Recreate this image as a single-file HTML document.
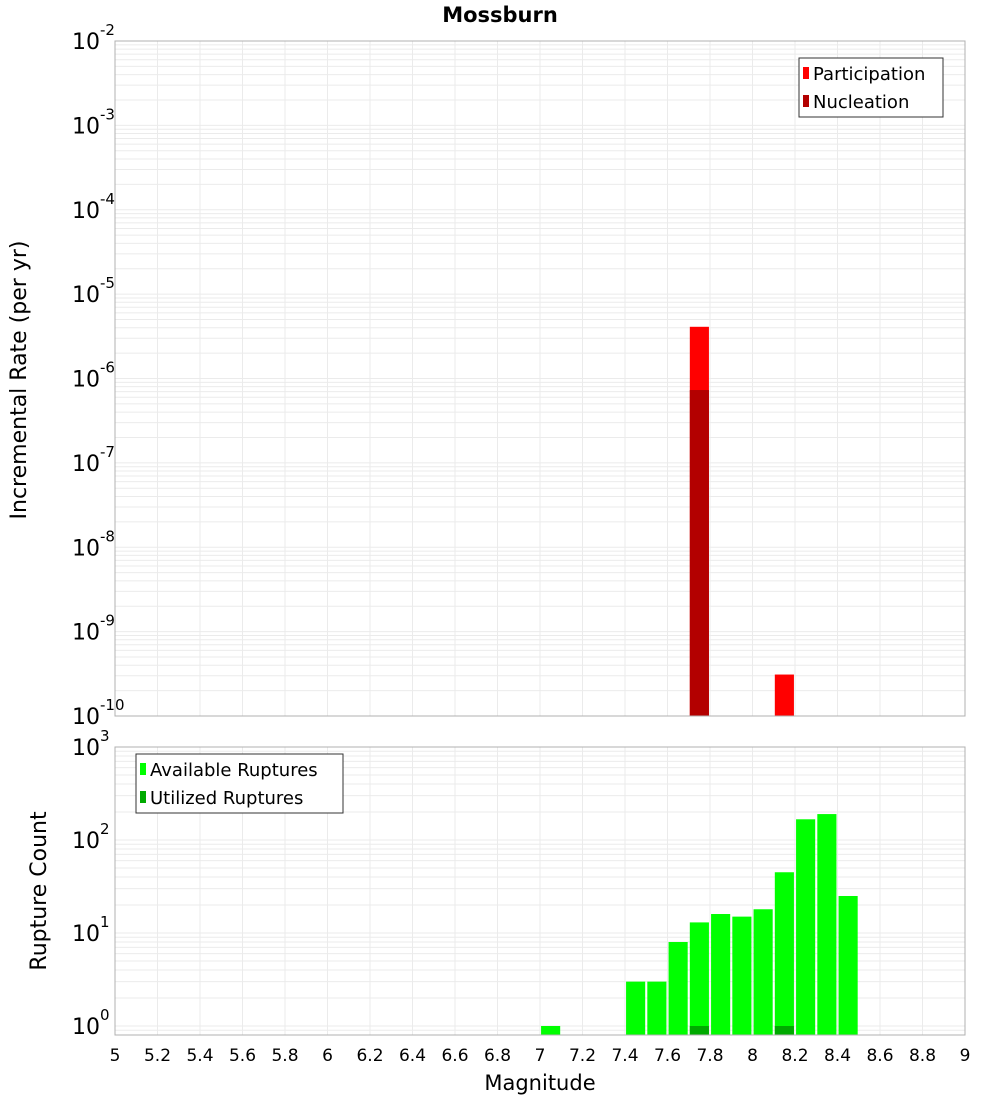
<!DOCTYPE html>
<html><head><meta charset="utf-8"><style>
body{margin:0;background:#fff;}
svg text{font-family:"DejaVu Sans","Liberation Sans",sans-serif;}
</style></head><body>
<svg id="c" width="1000" height="1100" xmlns="http://www.w3.org/2000/svg"></svg>
<script>
const partMags=[7.75,8.15];
const partRates=[4.1e-6,3.1e-10];
const nuclMags=[7.75];
const nuclRates=[7.3e-7];
const availMags=[7.05,7.45,7.55,7.65,7.75,7.85,7.95,8.05,8.15,8.25,8.35,8.45];
const availCounts=[1,3,3,8,13,16,15,18,45,167,190,25];
const utilMags=[7.75,8.15];
const utilCounts=[1,1];
const xTicks=["5","5.2","5.4","5.6","5.8","6","6.2","6.4","6.6","6.8","7","7.2","7.4","7.6","7.8","8","8.2","8.4","8.6","8.8","9"];
const topExps=[-2,-3,-4,-5,-6,-7,-8,-9,-10];
const botExps=[3,2,1,0];

const svg=document.getElementById('c');
const NS='http://www.w3.org/2000/svg';
function mk(t,a,p){const e=document.createElementNS(NS,t);for(const k in a)e.setAttribute(k,a[k]);(p||svg).appendChild(e);return e;}
const L=115,R=965;
const x=m=>L+(m-5)/4*(R-L);
const T1=41,B1=716; const yTop=v=>T1+(-2-Math.log10(v))*(B1-T1)/8;
const T2=747,B2=1035; const D2=93; const yBot=v=>1026-Math.log10(v)*D2;

function grid(top,bot,yf,lo,hi,name){
  const g=mk('g',{});
  for(let e=lo;e<hi;e++)for(let k=1;k<10;k++){const y=yf(k*Math.pow(10,e));if(y<top-0.5||y>bot+0.5)continue;
    mk('line',{x1:L,x2:R,y1:y,y2:y,stroke:'#ebebeb','stroke-width':1},g);}
  for(let i=0;i<xTicks.length;i++){const xx=x(+xTicks[i]);mk('line',{x1:xx,x2:xx,y1:top,y2:bot,stroke:'#ebebeb','stroke-width':1},g);}
}
grid(T1,B1,yTop,-10,-2,'top-grid');
grid(T2,B2,yBot,-1,3,'bottom-grid');

function bars(mags,vals,yf,base,color,name){
  const g=mk('g',{});
  mags.forEach((m,i)=>{const x0=x(m-0.045),x1=x(m+0.045);const y=yf(vals[i]);
    const r=mk('rect',{x:x0,y:y,width:x1-x0,height:base-y,fill:color},g);
    });
}
bars(partMags,partRates,yTop,B1,'#ff0000','participation');
bars(nuclMags,nuclRates,yTop,B1,'#b30000','nucleation');
bars(availMags,availCounts,yBot,B2,'#00ff00','available-ruptures');
bars(utilMags,utilCounts,yBot,B2,'#00aa00','utilized-ruptures');

let f=mk('rect',{x:L,y:T1,width:R-L,height:B1-T1,fill:'none',stroke:'#b0b0b0'});
f=mk('rect',{x:L,y:T2,width:R-L,height:B2-T2,fill:'none',stroke:'#b0b0b0'});

function ylab(exp,y,name){const t=mk('text',{x:72,y:y+8,'font-size':22,fill:'#000'});t.textContent='10';
  const s=mk('tspan',{dy:-14,'font-size':15});s.textContent=String(exp);t.appendChild(s);
  }
topExps.forEach(e=>ylab(e,yTop(Math.pow(10,e)),'top-y-tick'));
botExps.forEach(e=>ylab(e,yBot(Math.pow(10,e)),'bottom-y-tick'));
xTicks.forEach(s=>{const t=mk('text',{x:x(+s),y:1061,'font-size':17,'text-anchor':'middle',fill:'#000'});t.textContent=s;
  });

let t=mk('text',{x:500,y:22,'font-size':21,'font-weight':'bold','text-anchor':'middle'});t.textContent='Mossburn';
t=mk('text',{x:540,y:1090,'font-size':21,'text-anchor':'middle'});t.textContent='Magnitude';
t=mk('text',{x:0,y:0,'font-size':22,'text-anchor':'middle',transform:'translate(26,380) rotate(-90)'});t.textContent='Incremental Rate (per yr)';
t=mk('text',{x:0,y:0,'font-size':22,'text-anchor':'middle',transform:'translate(46,891) rotate(-90)'});t.textContent='Rupture Count';

function legend(x0,y0,w,items,name){
  const g=mk('g',{});
  mk('rect',{x:x0,y:y0,width:w,height:59,fill:'#fff',stroke:'#333'},g);
  items.forEach((it,i)=>{const cy=y0+15+i*28;
    mk('rect',{x:x0+4,y:cy-6,width:6,height:12,fill:it[1]},g);
    const tt=mk('text',{x:x0+14,y:cy+7,'font-size':18},g);tt.textContent=it[0];
    });
}
legend(799,58,144,[['Participation','#ff0000'],['Nucleation','#b30000']],'top-legend');
legend(136,754,207,[['Available Ruptures','#00ff00'],['Utilized Ruptures','#00aa00']],'bottom-legend');
</script>
</body></html>
